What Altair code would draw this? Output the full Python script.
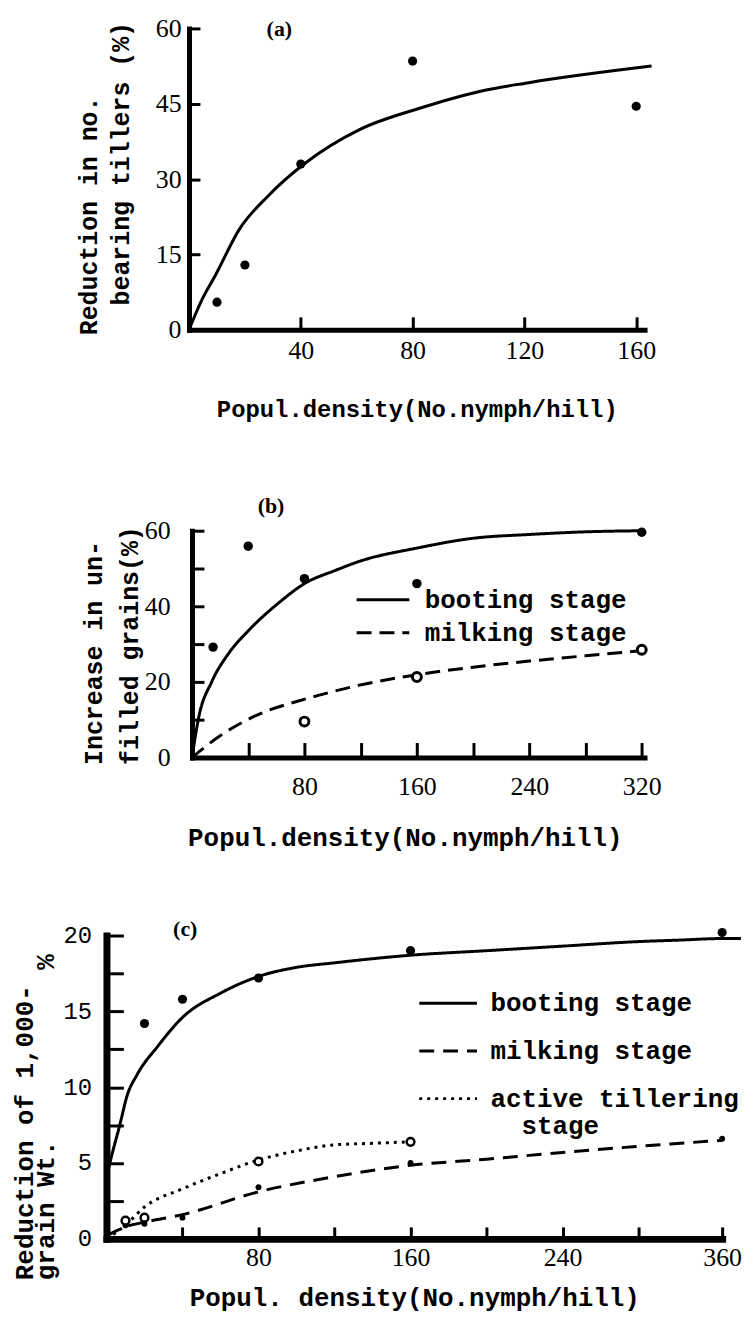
import altair as alt
import pandas as pd

MONO = "Liberation Mono"
SERIF = "Liberation Serif"
NB = "\u00a0"
ZW = "\u200b"

# ---------------- panel (a) ----------------
a_pts_x = [10, 20, 40, 80, 160]
a_pts_y = [5.5, 12.9, 33.0, 53.5, 44.5]
a_fit_x = [0, 4.3, 9.5, 18.1, 28.4, 41.4, 61.2, 83.1, 104.3, 121.6, 165.5]
a_fit_y = [0, 5.6, 10.9, 20.1, 26.7, 33.1, 39.9, 44.2, 47.5, 49.2, 52.5]
a_xticks = [40, 80, 120, 160]
a_yticks = [0, 15, 30, 45, 60]

# ---------------- panel (b) ----------------
b_stages = ["booting stage", "milking stage"]
b_boot_x = [15, 40, 80, 160, 320]
b_boot_y = [29.2, 55.9, 47.3, 46.0, 59.6]
b_milk_x = [80, 160, 320]
b_milk_y = [9.5, 21.3, 28.5]
b_fit_boot_x = [0, 5, 14, 26, 40, 62, 80, 102, 120, 160, 200, 240, 280, 322]
b_fit_boot_y = [0, 11, 20, 27.5, 33.5, 41, 46, 49.5, 52, 55.4, 58, 59, 59.7, 60]
b_fit_milk_x = [0, 19, 45, 81, 102, 120, 160, 200, 240, 280, 322]
b_fit_milk_y = [0, 5.5, 11, 15.5, 17.6, 19.2, 21.9, 23.9, 25.5, 26.9, 28.3]
b_xticks = [40, 80, 120, 160, 200, 240, 280, 320]   # labelled: 80, 160, 240, 320
b_yticks = [0, 10, 20, 30, 40, 50, 60]               # labelled: 0, 20, 40, 60

# ---------------- panel (c) ----------------
c_stages = ["booting stage", "milking stage", "active tillering stage"]
c_boot_x = [20, 40, 80, 160, 360]
c_boot_y = [14.2, 15.8, 17.2, 19.0, 20.2]
c_milk_x = [10, 20, 40, 80, 160, 360]
c_milk_y = [0.9, 1.0, 1.4, 3.4, 5.0, 6.6]
c_till_x = [10, 20, 80, 160]
c_till_y = [1.2, 1.4, 5.1, 6.4]
c_fit_boot_x = [0, 1.6, 7, 11, 16, 27, 40, 60, 80, 100, 120, 160, 200, 240, 280, 320, 360, 378]
c_fit_boot_y = [4, 4.9, 7.5, 9.5, 10.8, 12.7, 14.6, 16.2, 17.3, 17.9, 18.2, 18.7, 19.0, 19.3, 19.6, 19.7, 19.8, 19.8]
c_fit_milk_x = [0, 10, 20, 40, 80, 120, 160, 200, 240, 280, 320, 360]
c_fit_milk_y = [0.2, 0.8, 1.1, 1.6, 3.1, 4.1, 4.85, 5.25, 5.7, 6.1, 6.3, 6.5]
c_fit_till_x = [0, 10, 20, 40, 60, 80, 100, 120, 140, 160]
c_fit_till_y = [0, 0.9, 2.1, 3.3, 4.3, 5.2, 5.8, 6.2, 6.3, 6.4]
c_xticks = [40, 80, 120, 160, 200, 240, 280, 360]    # labelled: 80, 160, 240, 360
c_yticks = [0, 2.5, 5, 7.5, 10, 12.5, 15, 17.5, 20]  # labelled: 0, 5, 10, 15, 20

panel_letters = ["(a)", "(b)", "(c)"]


def long_df(names, xs_list, ys_list):
    rows = []
    for n, xv, yv in zip(names, xs_list, ys_list):
        rows += [{"stage": n, "x": a, "y": b} for a, b in zip(xv, yv)]
    return pd.DataFrame(rows)


def pts_df(xv, yv):
    return pd.DataFrame({"x": xv, "y": yv})


def inward(n):
    # ticks drawn into the plot area
    return {"expr": str(-n)}


common_axis = dict(grid=False, domainColor="black", labelColor="black", tickColor="black",
                   tickWidth=3, titleColor="black", labelFlush=False, labelOverlap=False,
                   domainCap="square")


def panel(xs, ys, ax_x, ax_y, W, H, curves, dash, point_specs, letter, letter_x, letter_y):
    X = lambda f: alt.X(f, scale=xs, axis=ax_x)
    Y = lambda f: alt.Y(f, scale=ys, axis=ax_y)
    enc = dict(x=X("x:Q"), y=Y("y:Q"))
    if dash is not None:
        enc["strokeDash"] = dash
    layers = [alt.Chart(curves).mark_line(color="black", strokeWidth=3,
                                          interpolate="monotone").encode(**enc)]
    for kind, xv, yv, size, sw in point_specs:
        if kind == "filled":
            mk = alt.Chart(pts_df(xv, yv)).mark_circle(color="black", opacity=1, size=size)
        else:
            mk = alt.Chart(pts_df(xv, yv)).mark_point(
                shape="circle", filled=True, fill="white", stroke="black", strokeWidth=sw,
                size=size, opacity=1)
        layers.append(mk.encode(x=X("x:Q"), y=Y("y:Q")))
    layers.append(alt.Chart(pd.DataFrame({"lab": [letter]})).mark_text(
        font=SERIF, fontSize=22, fontWeight="bold", color="black", align="left",
        baseline="middle").encode(text="lab:N", x=alt.value(letter_x), y=alt.value(letter_y)))
    return alt.layer(*layers).properties(width=W, height=H)


# ======== (a) ========
WA, HA = 560, 303
xs_a = alt.Scale(domain=[0, 163], range=[83, 541], nice=False, zero=False)
ys_a = alt.Scale(domain=[0, 60], nice=False, zero=False)
ax_xa = alt.Axis(values=a_xticks, tickSize=inward(13), domainWidth=5, labelFont=SERIF,
                 labelFontSize=26, labelPadding=21, title="Popul.density(No.nymph/hill)",
                 titleFont=MONO, titleFontSize=24, titleFontWeight="bold", titlePadding=34,
                 **common_axis)
ax_ya = alt.Axis(values=a_yticks, tickSize=inward(11), offset=-83, domainWidth=5,
                 labelFont=SERIF, labelFontSize=26, labelPadding=19,
                 title=["Reduction in no.", ZW + NB + NB + "bearing tillers (%)"], titleFont=MONO,
                 titleFontSize=25, titleFontWeight="bold", titleLineHeight=32, titleAlign="left",
                 titleY=308, titlePadding=22, **common_axis)
pa = panel(xs_a, ys_a, ax_xa, ax_ya, WA, HA, pts_df(a_fit_x, a_fit_y), None,
           [("filled", a_pts_x, a_pts_y, 85, 0)], panel_letters[0], 161, 1)

# ======== (b) ========
WB, HB = 560, 251
xs_b = alt.Scale(domain=[0, 322], range=[86, 541], nice=False, zero=False)
ys_b = alt.Scale(domain=[0, 60], range=[251, 23], nice=False, zero=False)
ax_xb = alt.Axis(values=b_xticks, tickSize=inward(15), domainWidth=5, labelFont=SERIF,
                 labelFontSize=26, labelPadding=31,
                 labelExpr="datum.value % 80 == 0 ? datum.label : ''",
                 title="Popul.density(No.nymph/hill)", titleFont=MONO, titleFontSize=26,
                 titleFontWeight="bold", titlePadding=26, titleX=300, **common_axis)
ax_yb = alt.Axis(values=b_yticks, tickSize=inward(12), offset=-86, domainWidth=5,
                 labelFont=SERIF, labelFontSize=26, labelPadding=34,
                 labelExpr="datum.value % 20 == 0 ? datum.label : ''",
                 title=["Increase in un-", "filled grains(%)"], titleFont=MONO,
                 titleFontSize=25, titleFontWeight="bold", titleLineHeight=36, titleAlign="left",
                 titleY=258, titlePadding=2, **common_axis)
dash_b = alt.StrokeDash("stage:N", scale=alt.Scale(domain=b_stages, range=[[1, 0], [15, 8]]),
                        legend=alt.Legend(
                            title=None, orient="none", legendX=250, legendY=76,
                            symbolType="stroke", symbolSize=2809, symbolStrokeWidth=3,
                            symbolStrokeColor="black", labelFont=MONO, labelFontSize=26,
                            labelFontWeight="bold", labelColor="black", labelOffset=14,
                            labelLimit=500, clipHeight=33, rowPadding=0, padding=0))
pb = panel(xs_b, ys_b, ax_xb, ax_yb, WB, HB,
           long_df(b_stages, [b_fit_boot_x, b_fit_milk_x], [b_fit_boot_y, b_fit_milk_y]), dash_b,
           [("filled", b_boot_x, b_boot_y, 90, 0), ("hollow", b_milk_x, b_milk_y, 80, 3)],
           panel_letters[1], 152, -2)

# ======== (c) ========
WC, HC = 619, 305
xs_c = alt.Scale(domain=[0, 280, 360], range=[0, 535, 619], nice=False, zero=False)
ys_c = alt.Scale(domain=[0, 20], nice=False, zero=False)
ax_xc = alt.Axis(values=c_xticks, tickSize=inward(12), domainWidth=7, labelFont=SERIF,
                 labelFontSize=26, labelPadding=18,
                 labelExpr="(datum.value % 80 == 0 || datum.value == 360) ? datum.label : ''",
                 title="Popul. density(No.nymph/hill)", titleFont=MONO, titleFontSize=26,
                 titleFontWeight="bold", titlePadding=14, **common_axis)
ax_yc = alt.Axis(values=c_yticks, tickSize=inward(17), domainWidth=7, labelFont=MONO,
                 labelFontSize=24, labelPadding=32,
                 labelExpr="datum.value % 5 == 0 ? datum.label : ''",
                 title=["Reduction of 1,000-", "grain Wt." + NB * 11 + "%"], titleFont=MONO,
                 titleFontSize=26, titleFontWeight="bold", titleLineHeight=22, titleAlign="left",
                 titleY=346, titlePadding=4, **common_axis)
dash_c = alt.StrokeDash("stage:N", scale=alt.Scale(domain=c_stages,
                                                    range=[[1, 0], [15, 9], [3, 5]]),
                        legend=alt.Legend(
                            title=None, orient="none", legendX=313, legendY=44,
                            symbolType="stroke", symbolSize=3364, symbolStrokeWidth=3,
                            symbolStrokeColor="black", labelFont=MONO, labelFontSize=26,
                            labelFontWeight="bold", labelColor="black", labelOffset=12,
                            labelLimit=500, clipHeight=48, rowPadding=0, padding=0,
                            labelExpr="datum.label == 'active tillering stage' ? "
                                      "['active tillering', '" + ZW + NB + NB + "stage'] : datum.label"))
pc = panel(xs_c, ys_c, ax_xc, ax_yc, WC, HC,
           long_df(c_stages, [c_fit_boot_x, c_fit_milk_x, c_fit_till_x],
                   [c_fit_boot_y, c_fit_milk_y, c_fit_till_y]), dash_c,
           [("filled", c_boot_x, c_boot_y, 85, 0), ("filled", c_milk_x, c_milk_y, 35, 0),
            ("hollow", c_till_x, c_till_y, 60, 2.5)],
           panel_letters[2], 67, -7)

chart = alt.vconcat(pa, pb, pc, spacing=179, bounds="flush").resolve_scale(
    strokeDash="independent"
).resolve_legend(strokeDash="independent").properties(
    padding={"left": 3, "top": 4, "right": 0, "bottom": 0}
).configure_view(stroke=None)

chart.save("out.html", embed_options={"renderer": "svg", "actions": False})
